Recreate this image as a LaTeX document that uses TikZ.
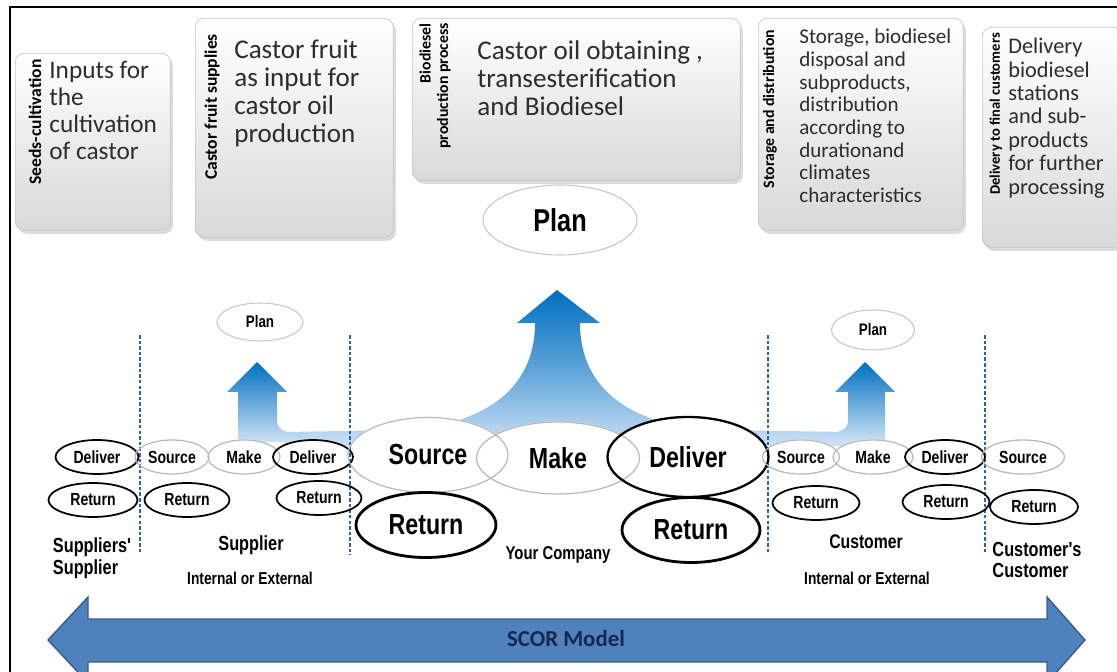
\documentclass[tikz,border=0pt]{standalone}
\usepackage{fontspec}
\setmainfont{Carlito}
\newfontfamily\scorfont[FakeStretch=0.8]{Liberation Sans}
\usetikzlibrary{shapes.geometric,shadows,calc}

\definecolor{scorblue}{RGB}{0,112,192}
\definecolor{scorpale}{RGB}{205,225,245}
\definecolor{bandblue}{RGB}{79,129,189}
\definecolor{bandedge}{RGB}{56,93,138}
\definecolor{sepblue}{RGB}{40,100,180}
\definecolor{titlenavy}{RGB}{22,40,78}
\definecolor{boxtxt}{RGB}{45,45,45}

\pgfdeclarelayer{background}
\pgfsetlayers{background,main}

\tikzset{
  topbox/.style={rectangle, rounded corners=5pt, draw=gray!45, top color=white, bottom color=gray!30,
    drop shadow={shadow xshift=1.5pt, shadow yshift=-2pt, fill=gray!55}, inner sep=0pt, anchor=north west},
  sidelbl/.style={rotate=90, font=\bfseries\fontsize{9}{10}\selectfont, inner sep=0pt, align=right},
  boxtext/.style={anchor=north west, inner sep=0pt, align=left, text=boxtxt},
  proc/.style={ellipse, inner sep=0pt, font=\scorfont\bfseries\fontsize{10}{11}\selectfont,
    minimum width=1.6cm, minimum height=0.68cm},
  own/.style={proc, draw=black, line width=1pt},
  other/.style={proc, draw=gray!55, line width=0.7pt},
  bigproc/.style={font=\scorfont\bfseries\fontsize{16.5}{18}\selectfont, minimum width=3.2cm, minimum height=1.5cm},
  plan/.style={ellipse, inner sep=0pt, draw=gray!45, line width=0.6pt, font=\scorfont\bfseries\fontsize{9.5}{10}\selectfont},
  tier/.style={inner sep=0pt, align=left, font=\scorfont\bfseries\fontsize{11.6}{12.5}\selectfont},
  tiersub/.style={inner sep=0pt, font=\scorfont\bfseries\fontsize{9.8}{11}\selectfont},
  sep/.style={sepblue, line width=1.2pt, dash pattern=on 2pt off 1.2pt},
  flow/.style={top color=scorblue, bottom color=scorpale}
}

\begin{document}
\begin{tikzpicture}[x=0.02cm, y=-0.02cm]
\useasboundingbox (0,0) rectangle (1117,672);
\clip (0,0) rectangle (1117,672);
\draw[line width=1.2pt] (10,672) -- (10,7) -- (1117,7);

% top process boxes
\node[topbox, minimum width=3.1cm, minimum height=3.54cm] (seedbox) at (15,53) {};
\node[topbox, minimum width=3.96cm, minimum height=4.38cm] (fruitbox) at (195,18) {};
\node[topbox, minimum width=6.56cm, minimum height=3.24cm] (biobox) at (412,18) {};
\node[topbox, minimum width=4.1cm, minimum height=4.24cm] (storebox) at (758,18) {};
\node[topbox, minimum width=2.8cm, minimum height=4.4cm] (delbox) at (982,27) {};

\node[sidelbl, font=\bfseries\fontsize{10}{11}\selectfont] (seedlbl) at (35,122) {Seeds-cultivation};
\node[sidelbl, font=\bfseries\fontsize{10}{11}\selectfont] (fruitlbl) at (212,107) {Castor fruit supplies};
\node[sidelbl] (biolbl) at (435,86) {Biodiesel\\production process};
\node[sidelbl] (storelbl) at (770,109) {Storage and distribution};
\node[sidelbl, font=\bfseries\fontsize{8.3}{9}\selectfont] (dellbl) at (996,114) {Delivery to final customers};

\node[boxtext, font=\fontsize{14.4}{15.4}\selectfont] (seedtxt) at (49,61)
  {Inputs for\\the\\cultivation\\of castor};
\node[boxtext, font=\fontsize{15.4}{15.9}\selectfont] (fruittxt) at (234,40)
  {Castor fruit\\as input for\\castor oil\\production};
\node[boxtext, font=\fontsize{15.4}{15.9}\selectfont] (biotxt) at (477,40)
  {Castor oil obtaining ,\\transesterification\\and Biodiesel};
\node[boxtext, font=\fontsize{12}{12.9}\selectfont] (storetxt) at (799,29)
  {Storage, biodiesel\\disposal and\\subproducts,\\distribution\\according to\\durationand\\climates\\characteristics};
\node[boxtext, font=\fontsize{12.7}{13.3}\selectfont] (deltxt) at (1008,38)
  {Delivery\\biodiesel\\stations\\and sub-\\products\\for further\\processing};

% separators between the tiers
\draw[sep] (140,335) -- (140,553);
\draw[sep] (350,335) -- (350,555);
\draw[sep] (768,335) -- (768,553);
\draw[sep] (985,335) -- (985,553);

% suppliers' supplier
\node[own, minimum width=1.66cm] (ssdel) at (97,457) {Deliver};
\node[own, minimum width=1.78cm] (ssret) at (93,500) {Return};
\node[tier] (ssname) at (92,558) {Suppliers'\\Supplier};

% supplier
\node[other, minimum width=1.48cm] (supsrc) at (172,457) {Source};
\node[other, minimum width=1.44cm] (supmake) at (244,457) {Make};
\node[own] (supdel) at (313,457) {Deliver};
\node[own, minimum width=1.7cm] (supret) at (187,500) {Return};
\node[own, minimum width=1.7cm] (supretb) at (319,498) {Return};
\node[plan, minimum width=1.72cm, minimum height=0.76cm] (supplan) at (260,322) {Plan};
\node[tier] (supname) at (251,545) {Supplier};
\node[tiersub] (supkind) at (250,578) {Internal or External};

% your company
\node[other, bigproc] (src) at (428,455) {Source};
\node[other, bigproc, minimum width=3.26cm, minimum height=1.44cm] (mk) at (558,458) {Make};
\node[own, bigproc, line width=1.3pt, minimum width=3.22cm, minimum height=1.6cm] (dlv) at (688,457) {Deliver};
\node[own, bigproc, line width=1.6pt, minimum width=2.8cm, minimum height=1.3cm] (ret) at (426,525) {Return};
\node[own, bigproc, line width=1.6pt, minimum width=2.76cm, minimum height=1.3cm] (retb) at (691,530) {Return};
\node[plan, font=\scorfont\bfseries\fontsize{18}{20}\selectfont, minimum width=3.08cm, minimum height=1.4cm] (plan) at (560,220) {Plan};
\node[tiersub, font=\scorfont\bfseries\fontsize{10.6}{12}\selectfont] (yourco) at (558,555) {Your Company};

% customer
\node[other, minimum width=1.54cm] (cusrc) at (801,457) {Source};
\node[other] (cumake) at (873,457) {Make};
\node[own] (cudel) at (945,457) {Deliver};
\node[own, minimum width=1.74cm] (curet) at (816,503) {Return};
\node[own, minimum width=1.74cm] (curetb) at (946,502) {Return};
\node[plan, minimum width=1.66cm, minimum height=0.8cm] (cuplan) at (873,330) {Plan};
\node[tier, font=\scorfont\bfseries\fontsize{11.2}{12}\selectfont] (cuname) at (866,542) {Customer};
\node[tiersub] (cukind) at (867,578) {Internal or External};

% customer's customer
\node[other, minimum width=1.66cm] (ccsrc) at (1023,457) {Source};
\node[own, minimum width=1.76cm] (ccret) at (1034,507) {Return};
\node[tier] (ccname) at (1037,560) {Customer's\\Customer};

% plan arrows behind the ellipses
\begin{pgfonlayer}{background}
\shade[flow, middle color=scorblue!55!scorpale]
  (285,446) -- (285,432) -- (400,430) .. controls (480,426) and (535,392) .. (535,323)
  -- (517,323) -- (557,290) -- (600,323) -- (580,323)
  .. controls (580,392) and (635,426) .. (715,430) -- (850,432) -- (850,446) -- cycle;
\shade[flow] (238,442) -- (238,392) -- (227,392) -- (257,362) -- (287,392) -- (277,392)
  -- (277,420) .. controls (277,430) and (285,433) .. (300,433) -- (300,442) -- cycle;
\shade[flow] (885,442) -- (885,392) -- (895,392) -- (865,362) -- (835,392) -- (848,392)
  -- (848,420) .. controls (848,430) and (840,433) .. (825,433) -- (825,442) -- cycle;
\foreach \e in {ssdel,ssret,supsrc,supmake,supdel,supret,supretb,src,mk,dlv,ret,retb,
                cusrc,cumake,cudel,curet,curetb,ccsrc,ccret}
  \path let \p1=($(\e.east)-(\e.center)$), \p2=($(\e.north)-(\e.center)$) in
    [fill=white] (\e.center) ellipse [x radius=\x1, y radius=\y2];
\end{pgfonlayer}

% SCOR model band
\draw[fill=bandblue, draw=bandedge, line width=0.8pt]
  (48,640) -- (88,597) -- (88,619) -- (1047,619) -- (1047,597) -- (1085,640)
  -- (1047,683) -- (1047,662) -- (88,662) -- (88,683) -- cycle;
\node[font=\bfseries\fontsize{13}{15}\selectfont, text=titlenavy] (scor) at (566,639) {SCOR Model};
\end{tikzpicture}
\end{document}
